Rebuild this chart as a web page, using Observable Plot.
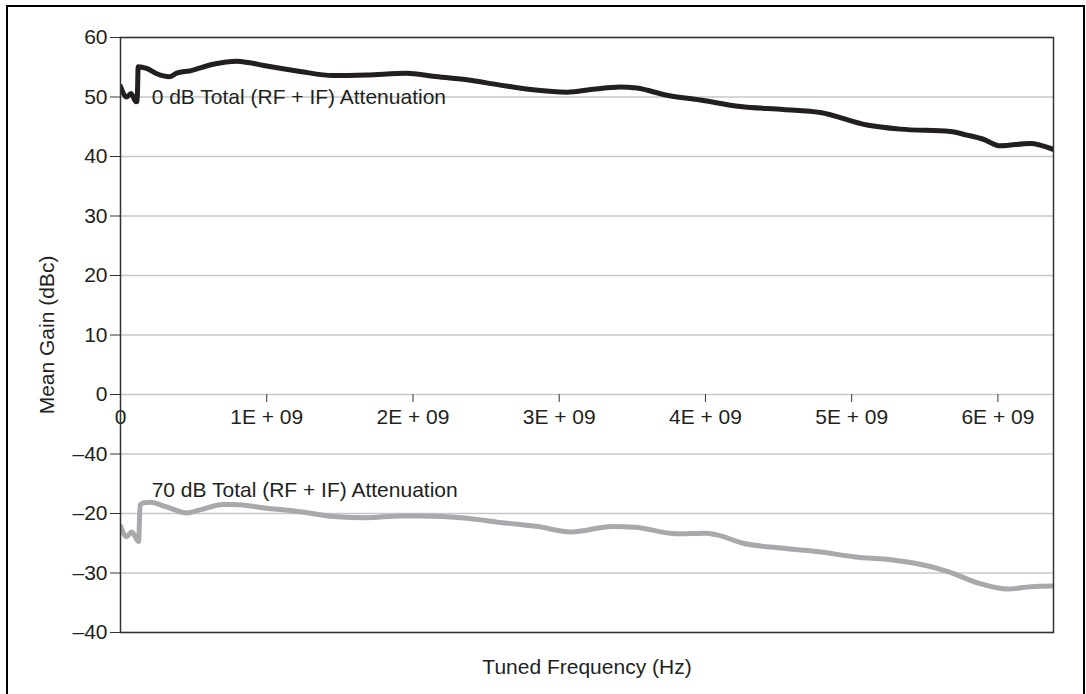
<!DOCTYPE html>
<html>
<head>
<meta charset="utf-8">
<script src="https://cdn.jsdelivr.net/npm/d3@7"></script>
<script src="https://cdn.jsdelivr.net/npm/@observablehq/plot@0.6"></script>
<style>
  html, body { margin: 0; padding: 0; background: #fff; overflow: hidden; }
  #wrap { position: relative; width: 1086px; height: 694px; }
  #border { position: absolute; left: 6px; top: 5px; width: 1079px; height: 760px;
            border: 2px solid #000; box-sizing: border-box; pointer-events: none; }
</style>
</head>
<body>
<div id="wrap"><div id="border"></div></div>
<script>
// Tick values and labels (as printed on the chart)
const xTickValues = [0, 1e9, 2e9, 3e9, 4e9, 5e9, 6e9];
const xTickLabels = ["0", "1E + 09", "2E + 09", "3E + 09", "4E + 09", "5E + 09", "6E + 09"];
const yTickValues = [60, 50, 40, 30, 20, 10, 0, -10, -20, -30, -40];
const yTickLabels = ["60", "50", "40", "30", "20", "10", "0", "\u201340", "\u201320", "\u201330", "\u201340"];

// 0 dB total attenuation series
const freq0dB = [0, 0.042e9, 0.072e9, 0.106e9, 0.114e9, 0.121e9, 0.179e9, 0.248e9, 0.334e9, 0.384e9,
  0.475e9, 0.633e9, 0.795e9, 0.872e9, 1.0e9, 1.227e9, 1.453e9, 1.684e9, 1.958e9, 2.137e9,
  2.368e9, 2.596e9, 2.821e9, 3.052e9, 3.232e9, 3.416e9, 3.531e9, 3.736e9, 3.964e9, 4.238e9,
  4.533e9, 4.785e9, 5.104e9, 5.332e9, 5.674e9, 5.788e9, 5.9e9, 6.016e9, 6.221e9, 6.378e9];
const gain0dB = [51.8, 50.0, 50.6, 49.2, 49.3, 55.1, 54.8, 53.9, 53.4, 54.0,
  54.4, 55.5, 56.0, 55.8, 55.2, 54.3, 53.6, 53.7, 54.0, 53.5,
  52.9, 52.0, 51.2, 50.8, 51.3, 51.7, 51.5, 50.3, 49.5, 48.4,
  47.9, 47.4, 45.3, 44.6, 44.2, 43.6, 42.9, 41.8, 42.2, 41.2];

// 70 dB total attenuation series
const freq70dB = [0, 0.042e9, 0.077e9, 0.124e9, 0.134e9, 0.16e9, 0.202e9, 0.316e9, 0.453e9, 0.544e9,
  0.703e9, 0.772e9, 1.0e9, 1.227e9, 1.456e9, 1.684e9, 1.912e9, 2.049e9, 2.368e9, 2.596e9,
  2.852e9, 3.081e9, 3.362e9, 3.516e9, 3.797e9, 4.001e9, 4.078e9, 4.258e9, 4.513e9, 4.768e9,
  5.024e9, 5.280e9, 5.536e9, 5.663e9, 5.867e9, 6.072e9, 6.225e9, 6.378e9];
const gain70dB = [-22.1, -23.9, -23.1, -24.7, -18.6, -18.2, -18.1, -18.9, -19.9, -19.4,
  -18.5, -18.5, -19.1, -19.7, -20.5, -20.7, -20.4, -20.4, -20.8, -21.5,
  -22.2, -23.1, -22.2, -22.3, -23.4, -23.3, -23.6, -25.0, -25.8, -26.4,
  -27.3, -27.8, -28.9, -29.8, -31.7, -32.7, -32.3, -32.2];

// Annotation labels
const seriesLabels = ["0 dB Total (RF + IF) Attenuation", "70 dB Total (RF + IF) Attenuation"];
const labelFreq = [0.213e9, 0.213e9];
const labelGain = [50.0, -16.05];

const xTitle = "Tuned Frequency (Hz)";
const yTitle = "Mean Gain (dBc)";

const s0 = freq0dB.map((f, i) => ({f, g: gain0dB[i]}));
const s70 = freq70dB.map((f, i) => ({f, g: gain70dB[i]}));
const annotations = seriesLabels.map((t, i) => ({t, f: labelFreq[i], g: labelGain[i]}));
const xt = xTickValues.map((v, i) => ({v, label: xTickLabels[i]}));

const textColor = "#231f20";
const fs = 21;

const chart = Plot.plot({
  width: 1086,
  height: 694,
  marginLeft: 120,
  marginRight: 33,
  marginTop: 37,
  marginBottom: 62,
  style: {fontFamily: "'Liberation Sans', Arial, Helvetica, sans-serif", fontSize: fs + "px", color: textColor, background: "transparent"},
  x: {domain: [0, 6.38e9]},
  y: {domain: [-40, 60]},
  marks: [
    Plot.gridY(yTickValues, {stroke: "#c6c7c9", strokeOpacity: 1, strokeWidth: 1.5}),
    Plot.axisY(yTickValues, {
      tickSize: 10, tickPadding: 3, stroke: "#333",
      tickFormat: (d) => yTickLabels[yTickValues.indexOf(d)],
      fontSize: fs, fill: textColor, label: null
    }),
    Plot.axisX({ticks: [], label: null, tickSize: 0, tickFormat: () => ""}),
    Plot.ruleX(xt, {x: "v", y1: 0, y2: 0, insetBottom: -8, stroke: "#333", strokeWidth: 1}),
    Plot.text(xt, {x: "v", y: 0, text: "label", dy: 23, fontSize: fs, fill: textColor}),
    Plot.line(s0, {x: "f", y: "g", stroke: "#231f20", strokeWidth: 5, curve: "monotone-x", clip: true}),
    Plot.line(s70, {x: "f", y: "g", stroke: "#a7a9ac", strokeWidth: 5, curve: "monotone-x", clip: true}),
    Plot.text(annotations, {x: "f", y: "g", text: "t", textAnchor: "start", lineAnchor: "middle", fontSize: fs, fill: textColor}),
    Plot.text([yTitle], {frameAnchor: "left", rotate: -90, dx: -73, text: (d) => d, fontSize: fs, fill: textColor, textAnchor: "middle", lineAnchor: "middle"}),
    Plot.text([xTitle], {frameAnchor: "bottom", dy: 35, text: (d) => d, fontSize: fs, fill: textColor, textAnchor: "middle", lineAnchor: "middle"}),
    Plot.frame({stroke: "#333", strokeWidth: 1.5})
  ]
});
chart.style.position = "absolute";
chart.style.left = "0";
chart.style.top = "0";
document.getElementById("wrap").prepend(chart);
</script>
</body>
</html>
